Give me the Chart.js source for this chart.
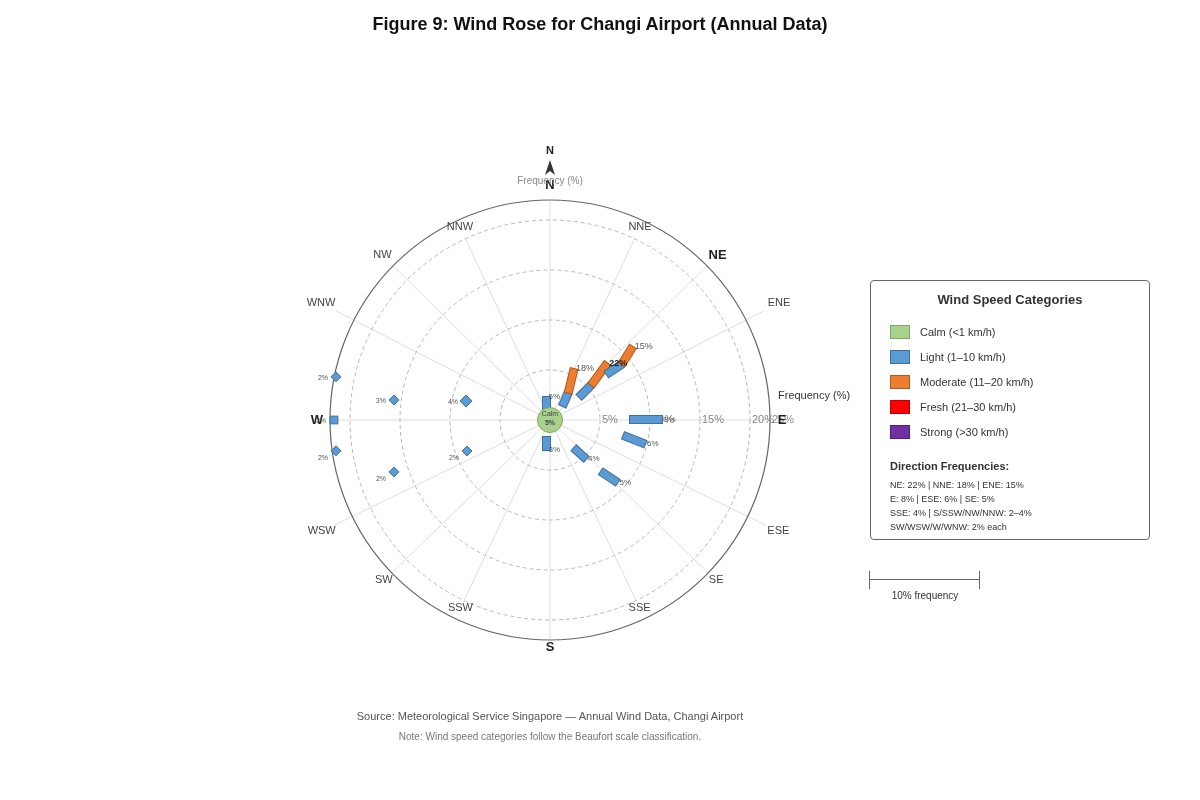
<!DOCTYPE html>
<html>
<head>
<meta charset="utf-8">
<title>Wind Rose - Changi Airport</title>
<script src="https://cdn.jsdelivr.net/npm/chart.js"></script>
<style>
  body { margin: 0; background: #fff; font-family: "Liberation Sans", Arial, sans-serif; }
  #wrap { position: relative; width: 1200px; height: 800px; overflow: hidden; }
  #rose { position: absolute; left: 0; top: 0; }
  .title { position: absolute; left: 0; top: 13px; width: 1200px; text-align: center;
           font-size: 18px; line-height: 22px; font-weight: bold; color: #111; }
  .legend { position: absolute; left: 870px; top: 280px; width: 280px; height: 260px;
            box-sizing: border-box; border: 1px solid #666; border-radius: 4px; background: #fff; }
  .lg-title { position: absolute; left: 0; top: 11px; width: 100%; text-align: center;
              font-size: 13px; line-height: 16px; font-weight: bold; color: #333; }
  .lg-swatch { position: absolute; left: 19px; width: 18px; height: 12px; border: 1px solid; }
  .lg-text { position: absolute; left: 49px; font-size: 11px; line-height: 14px; color: #333; white-space: nowrap; }
  .lg-sub { position: absolute; left: 19px; top: 178px; font-size: 11px; line-height: 14px; font-weight: bold; color: #333; }
  .lg-line { position: absolute; left: 19px; font-size: 9px; line-height: 12px; color: #333; white-space: nowrap; }
  .sb-line { position: absolute; left: 870px; top: 579px; width: 110px; height: 0; border-top: 1.5px solid #666; }
  .sb-tick { position: absolute; top: 571px; width: 0; height: 18px; border-left: 1.5px solid #666; }
  .sb-text { position: absolute; left: 870px; top: 590px; width: 110px; text-align: center; font-size: 10px; line-height: 12px; color: #333; }
  .source { position: absolute; left: 0; top: 709px; width: 1100px; text-align: center; font-size: 11px; line-height: 14px; color: #555; }
  .note { position: absolute; left: 0; top: 731px; width: 1100px; text-align: center; font-size: 10px; line-height: 12px; color: #777; }
</style>
</head>
<body>
<div id="wrap">
  <canvas id="rose" width="1200" height="800"></canvas>
  <div class="title">Figure 9: Wind Rose for Changi Airport (Annual Data)</div>
  <div class="legend" id="legend">
    <div class="lg-title">Wind Speed Categories</div>
    <div class="lg-sub">Direction Frequencies:</div>
  </div>
  <div class="sb-line"></div>
  <div class="sb-tick" style="left:869px"></div>
  <div class="sb-tick" style="left:979px"></div>
  <div class="sb-text">10% frequency</div>
  <div class="source">Source: Meteorological Service Singapore — Annual Wind Data, Changi Airport</div>
  <div class="note">Note: Wind speed categories follow the Beaufort scale classification.</div>
</div>

<script>
// ---- data ----
const directions = ['N', 'NNE', 'NE', 'ENE', 'E', 'ESE', 'SE', 'SSE', 'S', 'SSW', 'SW', 'WSW', 'W', 'WNW', 'NW', 'NNW'];
const frequency = [5, 18, 22, 15, 8, 6, 5, 4, 3, 2, 2, 2, 2, 2, 3, 4];
const calmFrequency = 5;
const prevailing = 'NE';

// bars on the east half, as [bearing deg, radius %]
const barDirections = ['N', 'NNE', 'NE', 'ENE', 'E', 'ESE', 'SE', 'SSE', 'S'];
const lightFrom = [[340.7, 1.06], [41.8, 1.88], [51.8, 3.72], [51.1, 7.28], [89.6, 8.0], [101.9, 7.51], [135.3, 7.25], [139.4, 3.69], [191.6, 1.74]];
const lightTo = [[351.3, 2.33], [33.8, 3.29], [49.7, 5.41], [52.2, 9.08], [89.7, 11.2], [104.2, 9.8], [132.8, 9.2], [137.3, 5.31], [186.7, 3.02]];
const moderateTo = [null, [25.2, 5.64], [45.3, 8.06], [48.4, 11.05], null, null, null, null, null];

// short marks on the west half, as [bearing deg, radius %]
const markDirections = ['NNW', 'NW', 'WNW', 'W', 'WSW', 'SW', 'SSW'];
const markAt = [[282.7, 8.61], [277.3, 15.73], [281.4, 21.83], [270, 21.6], [261.8, 21.62], [251.6, 16.44], [249.5, 8.86]];

const ringTicks = [5, 10, 15, 20, 25];
const outerRadius = 22;

const speedClasses = ['Calm (<1 km/h)', 'Light (1–10 km/h)', 'Moderate (11–20 km/h)', 'Fresh (21–30 km/h)', 'Strong (>30 km/h)'];
const summaryLines = [
    'NE: 22% | NNE: 18% | ENE: 15%',
    'E: 8% | ESE: 6% | SE: 5%',
    'SSE: 4% | S/SSW/NW/NNW: 2–4%',
    'SW/WSW/W/WNW: 2% each'
];

// ---- styling ----
const fills = ['#a9d18e', '#5b9bd5', '#ed7d31', '#ff0000', '#7030a0'];
const edges = ['#7ea862', '#3f6f9c', '#b05a20', '#c00000', '#50207a'];
const spokeBearings = [0, 25, 45.5, 63, 90, 116, 134, 154.5, 180, 205.5, 226, 244, 270, 297, 314.5, 335];
const spokeLengths = [22, 20, 22, 24, 22, 24, 22, 20, 22, 20, 22, 24, 22, 24, 22, 20];
const labelRadius = [23.5, 21.3, 23.5, 25.7, 23.2, 25.4, 23.1, 20.8, 22.7, 20.8, 23.1, 25.4, 23.3, 25.7, 23.5, 21.3];
const FONT = '"Liberation Sans", Arial, sans-serif';

// legend box
const legend = document.getElementById('legend');
speedClasses.forEach((name, k) => {
    const sw = document.createElement('div');
    sw.className = 'lg-swatch';
    sw.style.top = (44 + k * 25) + 'px';
    sw.style.background = fills[k];
    sw.style.borderColor = edges[k];
    legend.appendChild(sw);
    const tx = document.createElement('div');
    tx.className = 'lg-text';
    tx.style.top = (44 + k * 25) + 'px';
    tx.textContent = name;
    legend.appendChild(tx);
});
summaryLines.forEach((line, k) => {
    const el = document.createElement('div');
    el.className = 'lg-line';
    el.style.top = (198 + k * 14) + 'px';
    el.textContent = line;
    legend.appendChild(el);
});

// ---- helpers ----
const DEG = Math.PI / 180;
function polar(b, r) {
    return { x: r * Math.sin(b * DEG), y: r * Math.cos(b * DEG) };
}
function stretch(p, q, d) {
    const dx = q.x - p.x, dy = q.y - p.y, len = Math.hypot(dx, dy) || 1;
    return [{ x: p.x - dx / len * d, y: p.y - dy / len * d }, { x: q.x + dx / len * d, y: q.y + dy / len * d }];
}

const datasets = [];
function addSegment(from, to, k) {
    const p = polar(from[0], from[1]), q = polar(to[0], to[1]);
    datasets.push({ data: stretch(p, q, 0.1), showLine: true, borderColor: edges[k], borderWidth: 9, pointRadius: 0, borderCapStyle: 'butt' });
    datasets.push({ data: [p, q], showLine: true, borderColor: fills[k], borderWidth: 7, pointRadius: 0, borderCapStyle: 'butt' });
}
barDirections.forEach((d, i) => {
    addSegment(lightFrom[i], lightTo[i], 1);
    if (moderateTo[i]) addSegment(lightTo[i], moderateTo[i], 2);
});
datasets.push({
    data: markAt.map(m => polar(m[0], m[1])),
    pointStyle: markDirections.map(d => d === 'W' ? 'rect' : 'rectRot'),
    pointRadius: markDirections.map(d => d === 'W' ? 5.5 : (d === 'NNW' ? 6 : 5)),
    backgroundColor: fills[1], borderColor: edges[1], borderWidth: 1
});
datasets.push({
    data: [{ x: 0, y: 0 }],
    pointRadius: 12.5, backgroundColor: fills[0], borderColor: edges[0], borderWidth: 1
});
datasets.forEach((ds, i) => { ds.order = -i; ds.clip = false; });

// grid, rings and labels
const roseDecor = {
    id: 'roseDecor',
    beforeDatasetsDraw(chart) {
        const { ctx, scales: { x, y } } = chart;
        const cx = x.getPixelForValue(0), cy = y.getPixelForValue(0);
        const unit = x.getPixelForValue(1) - cx;
        ctx.save();
        ctx.lineWidth = 1;
        ctx.strokeStyle = '#dedede';
        spokeBearings.forEach((b, i) => {
            const p = polar(b, spokeLengths[i]);
            ctx.beginPath();
            ctx.moveTo(cx, cy);
            ctx.lineTo(x.getPixelForValue(p.x), y.getPixelForValue(p.y));
            ctx.stroke();
        });
        ctx.setLineDash([4, 3]);
        ctx.strokeStyle = '#b8b8b8';
        ringTicks.filter(v => v < outerRadius).forEach(v => {
            ctx.beginPath();
            ctx.arc(cx, cy, v * unit, 0, 2 * Math.PI);
            ctx.stroke();
        });
        ctx.setLineDash([]);
        ctx.strokeStyle = '#666';
        ctx.lineWidth = 1.2;
        ctx.beginPath();
        ctx.arc(cx, cy, outerRadius * unit, 0, 2 * Math.PI);
        ctx.stroke();

        ctx.font = '11px ' + FONT;
        ctx.fillStyle = '#888';
        ctx.textAlign = 'left';
        ctx.textBaseline = 'middle';
        ringTicks.forEach(v => {
            ctx.fillText(v + '%', x.getPixelForValue(Math.min(v, outerRadius) + 0.2), cy);
        });
        ctx.restore();
    },
    afterDatasetsDraw(chart) {
        const { ctx, scales: { x, y } } = chart;
        const cx = x.getPixelForValue(0), cy = y.getPixelForValue(0);
        const px = p => x.getPixelForValue(p.x), py = p => y.getPixelForValue(p.y);
        ctx.save();
        ctx.textBaseline = 'middle';

        // compass labels
        ctx.textAlign = 'center';
        directions.forEach((d, i) => {
            const big = d.length === 1 || d === prevailing;
            ctx.font = (big ? 'bold 13px ' : '11px ') + FONT;
            ctx.fillStyle = big ? '#222' : '#444';
            const p = polar(spokeBearings[i], labelRadius[i]);
            ctx.fillText(d, px(p), py(p));
        });

        // bar value labels
        ctx.textAlign = 'left';
        barDirections.forEach((d, i) => {
            const end = moderateTo[i] || lightTo[i];
            const p = polar(end[0], end[1]);
            const main = d === prevailing;
            ctx.font = (main ? 'bold 9px ' : (moderateTo[i] ? '9px ' : '8px ')) + FONT;
            ctx.fillStyle = main ? '#222' : '#555';
            ctx.fillText(frequency[directions.indexOf(d)] + '%', px(p) + 2, py(p));
        });

        // west mark labels
        ctx.textAlign = 'right';
        ctx.font = '7px ' + FONT;
        ctx.fillStyle = '#555';
        markDirections.forEach((d, i) => {
            const p = polar(markAt[i][0], markAt[i][1]);
            ctx.fillText(frequency[directions.indexOf(d)] + '%', px(p) - 8, py(p) + (markAt[i][0] < 270 ? 7 : 1));
        });

        // calm centre
        ctx.textAlign = 'center';
        ctx.fillStyle = '#444';
        ctx.font = '7px ' + FONT;
        ctx.fillText('Calm', cx, cy - 5.5);
        ctx.font = 'bold 7px ' + FONT;
        ctx.fillText(calmFrequency + '%', cx, cy + 3.5);

        // axis titles
        ctx.font = '10px ' + FONT;
        ctx.fillStyle = '#888';
        ctx.fillText('Frequency (%)', cx, y.getPixelForValue(23.9));
        ctx.textAlign = 'left';
        ctx.font = '11px ' + FONT;
        ctx.fillStyle = '#333';
        ctx.fillText('Frequency (%)', x.getPixelForValue(outerRadius + 0.8), y.getPixelForValue(2.4));

        // north arrow
        ctx.textAlign = 'center';
        ctx.font = 'bold 11px ' + FONT;
        ctx.fillStyle = '#222';
        ctx.fillText('N', cx, y.getPixelForValue(26.9));
        ctx.beginPath();
        ctx.moveTo(cx, y.getPixelForValue(26.0));
        ctx.lineTo(x.getPixelForValue(0.5), y.getPixelForValue(24.5));
        ctx.lineTo(cx, y.getPixelForValue(24.9));
        ctx.lineTo(x.getPixelForValue(-0.5), y.getPixelForValue(24.5));
        ctx.closePath();
        ctx.fillStyle = '#333';
        ctx.fill();
        ctx.restore();
    }
};

new Chart(document.getElementById('rose'), {
    type: 'scatter',
    data: { datasets: datasets },
    options: {
        responsive: false,
        animation: false,
        events: [],
        layout: { padding: 0, autoPadding: false },
        scales: {
            x: { type: 'linear', min: -55, max: 65, display: false },
            y: { type: 'linear', min: -38, max: 42, display: false }
        },
        plugins: { legend: { display: false }, tooltip: { enabled: false }, title: { display: false } }
    },
    plugins: [roseDecor]
});
</script>
</body>
</html>
